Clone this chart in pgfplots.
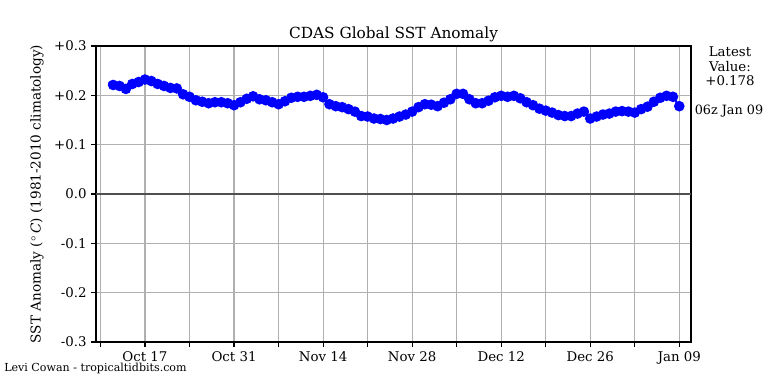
\documentclass[border=0pt]{standalone}
\usepackage{fontspec}
\setmainfont{DejaVu Serif}
\usepackage{pgfplots}
\pgfplotsset{compat=1.18}
\definecolor{mplblue}{RGB}{0,0,255}
\definecolor{gridgray}{RGB}{176,176,176}
\definecolor{zerogray}{RGB}{80,80,80}
\begin{document}
\begin{tikzpicture}
\path[use as bounding box] (0,0) rectangle (576pt,288pt);
\begin{axis}[
  at={(72pt,31.5pt)}, anchor=south west,
  scale only axis, width=446.25pt, height=222pt,
  xmin=-7.70, xmax=85.84, ymin=-0.3, ymax=0.3,
  xtick={-7,0,7,14,21,28,35,42,49,56,63,70,77,84},
  xticklabels={,Oct 17,,Oct 31,,Nov 14,,Nov 28,,Dec 12,,Dec 26,,Jan 09},
  ytick={-0.3,-0.2,-0.1,0,0.1,0.2,0.3},
  yticklabels={-0.3,-0.2,-0.1,0.0,+0.1,+0.2,+0.3},
  xtick pos=lower, ytick pos=left,
  tick align=outside, major tick length=3.5pt,
  tick style={black, line width=0.8pt},
  grid=major, grid style={color=gridgray, line width=0.8pt},
  axis line style={line width=0.8pt},
  tick label style={font=\fontsize{10}{12}\selectfont},
  title={CDAS Global SST Anomaly},
  title style={font=\fontsize{11.5}{13}\selectfont, at={(0.5,1)}, anchor=base, yshift=-0.75pt},
  ylabel={SST Anomaly ($^\circ$\,\textit{C}) (1981-2010 climatology)},
  ylabel style={at={(axis description cs:-0.0992,0.5)}, anchor=center, font=\fontsize{10.2}{12}\selectfont},
]
\draw[color=zerogray, line width=1pt] (axis cs:-7.70,0) -- (axis cs:85.84,0);
\addplot[color=mplblue, line width=1.5pt, forget plot] coordinates {(-5.75,0.226) (-5,0.221)};
\addplot[color=mplblue, line width=1.5pt, mark=*, mark size=3.2pt, mark options={solid, fill=mplblue, draw=mplblue}] table {
d v
-5 0.221
-4 0.219
-3 0.213
-2 0.223
-1 0.227
0 0.232
1 0.229
2 0.223
3 0.219
4 0.215
5 0.214
6 0.202
7 0.197
8 0.190
9 0.187
10 0.184
11 0.186
12 0.186
13 0.184
14 0.180
15 0.186
16 0.193
17 0.198
18 0.192
19 0.190
20 0.186
21 0.182
22 0.188
23 0.195
24 0.197
25 0.197
26 0.199
27 0.201
28 0.196
29 0.182
30 0.178
31 0.176
32 0.172
33 0.167
34 0.158
35 0.157
36 0.153
37 0.152
38 0.150
39 0.153
40 0.157
41 0.161
42 0.167
43 0.176
44 0.182
45 0.181
46 0.178
47 0.185
48 0.192
49 0.203
50 0.203
51 0.192
52 0.184
53 0.184
54 0.189
55 0.196
56 0.199
57 0.197
58 0.199
59 0.194
60 0.186
61 0.180
62 0.173
63 0.169
64 0.165
65 0.160
66 0.158
67 0.158
68 0.163
69 0.167
70 0.153
71 0.157
72 0.161
73 0.163
74 0.167
75 0.168
76 0.167
77 0.165
78 0.172
79 0.177
80 0.187
81 0.195
82 0.199
83 0.197
84 0.178
};
\end{axis}
\node[anchor=base, font=\fontsize{10}{12}\selectfont] at (547.5pt,245.5pt) {Latest};
\node[anchor=base, font=\fontsize{10}{12}\selectfont] at (547.5pt,234.4pt) {Value:};
\node[anchor=base, font=\fontsize{10}{12}\selectfont] at (547.5pt,223.5pt) {+0.178};
\node[anchor=base, font=\fontsize{9.6}{12}\selectfont] at (546.75pt,202.3pt) {06z Jan 09};
\node[anchor=base west, inner sep=0pt, font=\fontsize{8.3}{10}\selectfont] at (3pt,9.5pt) {Levi Cowan - tropicaltidbits.com};
\end{tikzpicture}
\end{document}
